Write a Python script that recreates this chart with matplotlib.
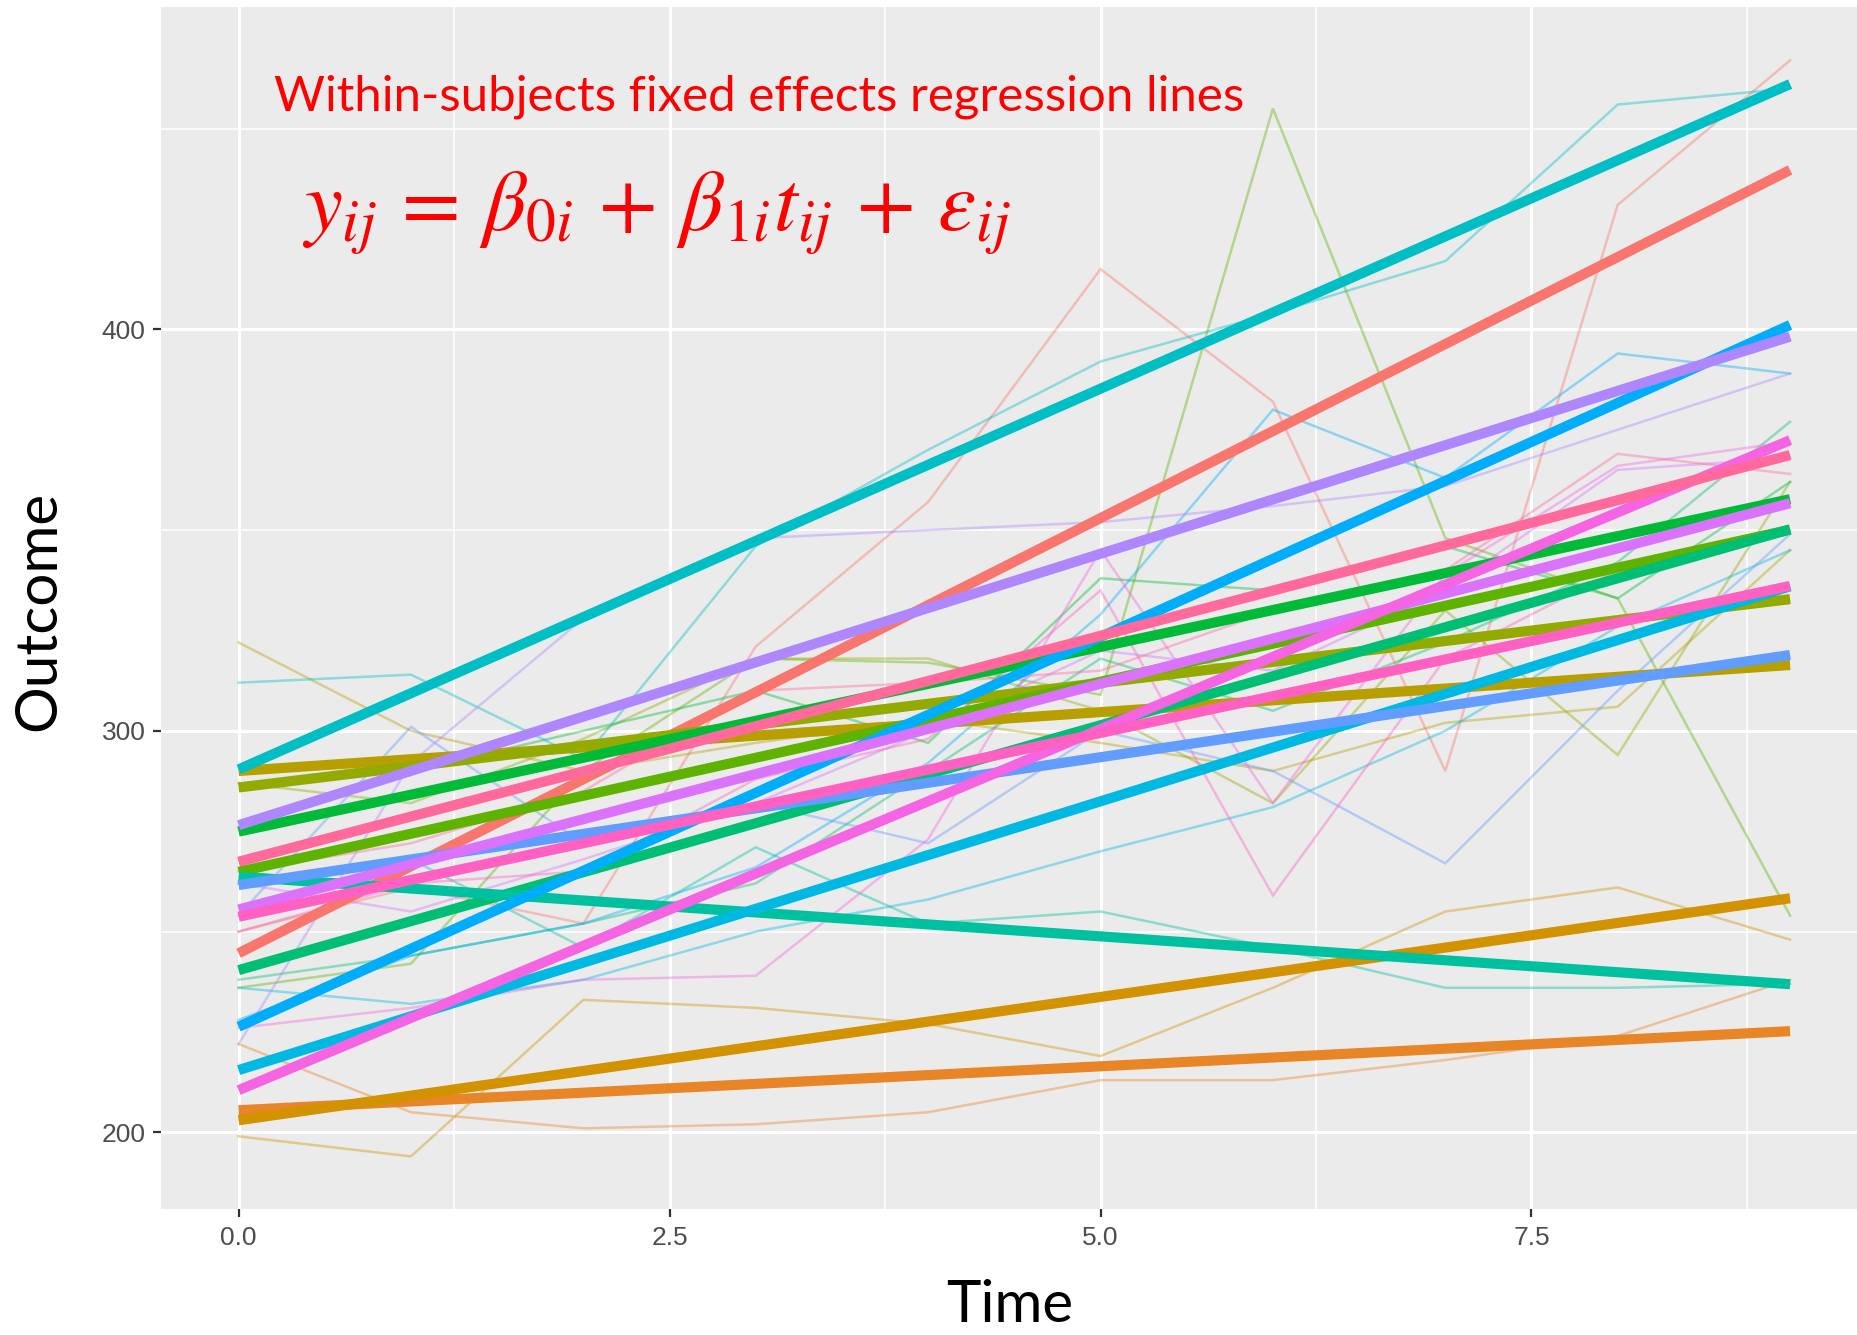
import numpy as np
import matplotlib
matplotlib.use("Agg")
import matplotlib.pyplot as plt

# ---- data -------------------------------------------------------------
time = [0, 1, 2, 3, 4, 5, 6, 7, 8, 9]

# observed outcome per subject (subjects ordered by palette hue)
subj_01 = [250, 261, 252, 321, 357, 415, 382, 290, 431, 467]
subj_02 = [222, 205, 201, 202, 205, 213, 213, 218, 224, 238]
subj_03 = [199, 194, 233, 231, 227, 219, 236, 255, 261, 248]
subj_04 = [322, 300, 290, 297, 303, 297, 290, 302, 306, 345]
subj_05 = [287, 282, 298, 318, 318, 305, 282, 330, 294, 362]
subj_06 = [236, 242, 290, 318, 317, 309, 455, 348, 333, 254]
subj_07 = [276, 290, 300, 310, 297, 338, 335, 346, 333, 362]
subj_08 = [238, 244, 252, 262, 290, 318, 305, 322, 342, 377]
subj_09 = [262, 268, 246, 271, 252, 255, 246, 236, 236, 237]
subj_10 = [312, 314, 293, 346, 370, 392, 404, 417, 456, 460]
subj_11 = [236, 232, 238, 250, 258, 270, 281, 300, 326, 345]
subj_12 = [228, 244, 252, 266, 292, 329, 380, 363, 394, 389]
subj_13 = [254, 301, 272, 282, 272, 300, 290, 267, 310, 349]
subj_14 = [222, 292, 328, 348, 350, 352, 356, 361, 375, 389]
subj_15 = [262, 255, 268, 282, 300, 320, 315, 335, 365, 368]
subj_16 = [226, 231, 238, 239, 273, 345, 282, 339, 366, 372]
subj_17 = [250, 262, 265, 288, 298, 335, 259, 318, 340, 350]
subj_18 = [265, 272, 285, 310, 312, 315, 330, 340, 369, 364]

subjects = [subj_01, subj_02, subj_03, subj_04, subj_05, subj_06,
            subj_07, subj_08, subj_09, subj_10, subj_11, subj_12,
            subj_13, subj_14, subj_15, subj_16, subj_17, subj_18]

# within-subject regression lines: fitted value at first and last time
fit_start = [244.6, 205.5, 203.0, 290.0, 285.9, 264.9, 274.9, 240.4, 263.7,
             290.4, 215.5, 226.3, 261.6, 276.5, 255.5, 210.5, 253.7, 267.4]
fit_end = [439.7, 225.2, 258.3, 316.4, 332.8, 350.1, 357.7, 350.2, 236.9,
           461.1, 336.0, 401.1, 318.9, 398.2, 356.7, 372.4, 336.1, 368.7]

x_ticks = [0.0, 2.5, 5.0, 7.5]
x_tick_labels = ["0.0", "2.5", "5.0", "7.5"]
y_ticks = [200, 300, 400]
y_tick_labels = ["200", "300", "400"]

title_text = "Within-subjects fixed effects regression lines"
formula_text = (r"$y_{ij}\,=\,\beta_{0i}\,+\,\beta_{1i}t_{ij}"
                r"\,+\,\varepsilon_{ij}$")


# ---- default discrete hue palette (HCL, L=65, C=100) ------------------
def hue_palette(n, h_start=15, lum=65, chroma=100):
    hues = np.linspace(h_start, h_start + 360, n + 1)[:-1] % 360
    xn, yn, zn = 95.047, 100.0, 108.883
    un = 4 * xn / (xn + 15 * yn + 3 * zn)
    vn = 9 * yn / (xn + 15 * yn + 3 * zn)
    cols = []
    for h in hues:
        u = chroma * np.cos(np.radians(h))
        v = chroma * np.sin(np.radians(h))
        Y = yn * ((lum + 16) / 116) ** 3
        up = u / (13 * lum) + un
        vp = v / (13 * lum) + vn
        X = 9.0 * Y * up / (4 * vp)
        Z = -X / 3 - 5 * Y + 3 * Y / vp
        xyz = np.array([X, Y, Z]) / 100.0
        m = np.array([[3.240479, -1.537150, -0.498535],
                      [-0.969256, 1.875992, 0.041556],
                      [0.055648, -0.204043, 1.057311]])
        rgb = m @ xyz
        rgb = np.where(rgb <= 0.0031308, 12.92 * rgb,
                       1.055 * np.power(np.clip(rgb, 0, None), 1 / 2.4) - 0.055)
        cols.append(tuple(np.clip(rgb, 0, 1)))
    return cols


colors = hue_palette(len(subjects))

# ---- figure -----------------------------------------------------------
W, H, DPI = 1857, 1335, 100
fig = plt.figure(figsize=(W / DPI, H / DPI), dpi=DPI, facecolor="white")

x_lo, x_hi = -0.45, 9.45
ax_left = 161 / W
ax_bottom = (H - 1209) / H
ax_top = (H - 7) / H
ax_right = (238 + (x_hi - 0) * 172.45) / W
ax = fig.add_axes([ax_left, ax_bottom, ax_right - ax_left, ax_top - ax_bottom])
ax.set_facecolor("#EBEBEB")
ax.set_xlim(x_lo, x_hi)
ax.set_ylim(180.9, 480.3)

# grid
for xv in [1.25, 3.75, 6.25, 8.75]:
    ax.axvline(xv, color="white", lw=1.1, zorder=0)
for yv in [250, 350, 450]:
    ax.axhline(yv, color="white", lw=1.1, zorder=0)
for xv in x_ticks:
    ax.axvline(xv, color="white", lw=2.2, zorder=0)
for yv in y_ticks:
    ax.axhline(yv, color="white", lw=2.2, zorder=0)

# raw trajectories
for vals, c in zip(subjects, colors):
    ax.plot(time, vals, color=c, lw=1.8, alpha=0.4, zorder=2,
            solid_joinstyle="miter")

# fitted lines
for s, e, c in zip(fit_start, fit_end, colors):
    ax.plot([time[0], time[-1]], [s, e], color=c, lw=7.3, zorder=3,
            solid_capstyle="butt")

for side in ax.spines.values():
    side.set_visible(False)

ax.set_xticks(x_ticks)
ax.set_xticklabels(x_tick_labels)
ax.set_yticks(y_ticks)
ax.set_yticklabels(y_tick_labels)
ax.tick_params(axis="both", length=6, width=1.6, color="#333333",
               labelcolor="#4D4D4D", labelsize=19)
ax.tick_params(axis="x", pad=6)
ax.tick_params(axis="y", pad=5)
for lab in ax.get_xticklabels() + ax.get_yticklabels():
    lab.set_family("Liberation Sans")

# axis titles
fig.text(1010 / W, 1 - 1305 / H, "Time", family="Lato", fontsize=42,
         color="black", ha="center", va="center")
fig.text(39 / W, 1 - 611 / H, "Outcome", family="Lato", fontsize=42,
         color="black", ha="center", va="center", rotation=90)

# annotation
fig.text(274 / W, 1 - 97 / H, title_text, family="Lato", fontsize=35.5,
         color="#FF0000", ha="left", va="center")
plt.rcParams["mathtext.fontset"] = "stix"
fig.text(302 / W, 1 - 213 / H, formula_text, fontsize=61.5,
         color="#FF0000", ha="left", va="center")

fig.savefig("out.png", dpi=DPI, facecolor="white")
